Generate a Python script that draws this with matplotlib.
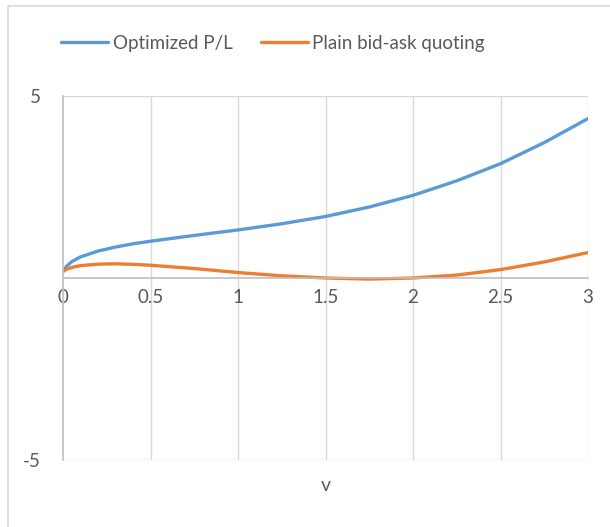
import matplotlib.pyplot as plt
from matplotlib.patches import Rectangle

# values
v = [0, 0.02, 0.05, 0.1, 0.2, 0.3, 0.4, 0.5, 0.75, 1, 1.25, 1.5, 1.75, 2, 2.25, 2.5, 2.75, 3]
optimized = [0.18, 0.32, 0.45, 0.58, 0.74, 0.85, 0.94, 1.01, 1.17, 1.32, 1.49, 1.69, 1.95, 2.27, 2.67, 3.14, 3.72, 4.38]
plain = [0.18, 0.24, 0.29, 0.34, 0.38, 0.39, 0.375, 0.35, 0.26, 0.15, 0.06, 0.0, -0.03, 0.0, 0.08, 0.23, 0.44, 0.70]
x_ticks = [0, 0.5, 1, 1.5, 2, 2.5, 3]
x_labels = ['0', '0.5', '1', '1.5', '2', '2.5', '3']
y_ticks = [-5, 5]

text_color = '#595959'
plt.rcParams['font.family'] = ['Lato', 'DejaVu Sans']
plt.rcParams['font.size'] = 13

fig = plt.figure(figsize=(6.1, 5.27), dpi=100)
# outer chart border
fig.patches.append(Rectangle((8 / 610, -0.1), 1.2, 1 - 6 / 527 + 0.1,
                             transform=fig.transFigure, fill=False,
                             edgecolor='#D9D9D9', linewidth=1.2))

ax = fig.add_axes([63 / 610, 1 - 460 / 527, 525 / 610, 364 / 527])

ax.plot(v, optimized, color='#5B9BD5', linewidth=2.4, label='Optimized P/L',
        solid_capstyle='round', solid_joinstyle='round')
ax.plot(v, plain, color='#ED7D31', linewidth=2.4, label='Plain bid-ask quoting',
        solid_capstyle='round', solid_joinstyle='round')

ax.set_xlim(0, 3)
ax.set_ylim(-5, 5)

# gridlines
for x in x_ticks[1:]:
    ax.axvline(x, color='#D9D9D9', linewidth=1, zorder=0)
for y in y_ticks:
    ax.axhline(y, color='#D9D9D9', linewidth=1, zorder=0)

for s in ['top', 'right']:
    ax.spines[s].set_visible(False)
ax.spines['bottom'].set_position(('data', 0))
ax.spines['bottom'].set_color('#BFBFBF')
ax.spines['left'].set_color('#BFBFBF')
ax.spines['bottom'].set_linewidth(1.2)
ax.spines['left'].set_linewidth(1.2)

ax.set_xticks(x_ticks)
ax.set_xticklabels(x_labels)
ax.set_yticks(y_ticks)
ax.set_yticklabels(['-5', '5'])
ax.tick_params(axis='both', length=0, colors=text_color, labelsize=13.5)
ax.tick_params(axis='x', pad=8)
ax.tick_params(axis='y', pad=16)

ax.text(1.5, -5.7, 'v', ha='center', va='center', color=text_color, fontsize=14)

ax.legend(loc='center', bbox_to_anchor=(273 / 610, 1 - 43 / 527),
          bbox_transform=fig.transFigure, ncol=2, frameon=False,
          handlelength=2.5, columnspacing=1.5, handletextpad=0.25,
          labelcolor=text_color, fontsize=13.5)

fig.savefig('out.png', dpi=100)
